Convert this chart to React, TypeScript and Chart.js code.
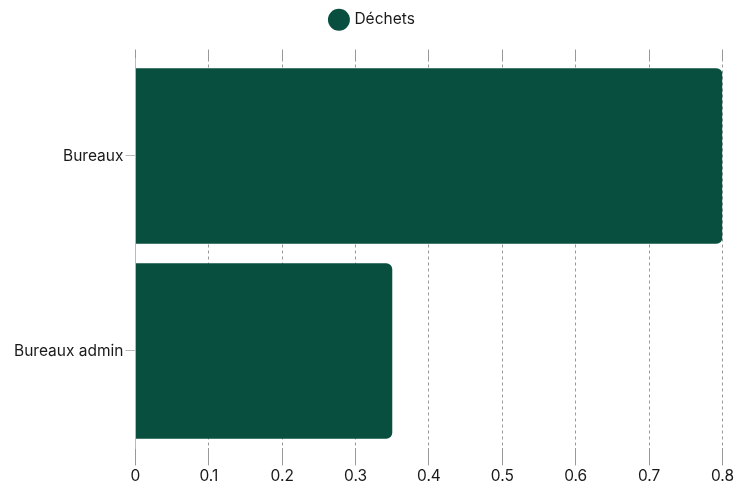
import React, { useEffect, useRef } from "react";
import { Chart, registerables } from "chart.js";

Chart.register(...registerables);

const categories: string[] = ["Bureaux", "Bureaux admin"];
const dechets: number[] = [0.8, 0.35];
const seriesLabel = "Déchets";

const legendMargin = {
  id: "legendMargin",
  beforeInit(chart: any) {
    const legend = chart.legend;
    if (!legend) return;
    const origFit = legend.fit;
    legend.fit = function () {
      origFit.bind(legend)();
      this.height += 12;
    };
    const origDraw = legend.draw;
    legend.draw = function () {
      const ctx = chart.ctx;
      ctx.save();
      ctx.translate(5, 0);
      origDraw.call(legend);
      ctx.restore();
    };
  },
};

export default function App() {
  const ref = useRef<HTMLCanvasElement | null>(null);
  useEffect(() => {
    document.body.style.margin = "0";
    if (!ref.current) return;
    const chart = new Chart(ref.current, {
      type: "bar",
      data: {
        labels: categories,
        datasets: [
          {
            label: seriesLabel,
            data: dechets,
            backgroundColor: "#094F3F",
            borderRadius: 6,
            borderSkipped: "start",
            barPercentage: 0.9,
            categoryPercentage: 1,
          },
        ],
      },
      plugins: [legendMargin],
      options: {
        indexAxis: "y",
        animation: false,
        responsive: true,
        maintainAspectRatio: false,
        layout: { padding: { left: 12, right: 12, top: 2, bottom: 0 } },
        plugins: {
          legend: {
            position: "top",
            labels: {
              usePointStyle: true,
              pointStyle: "circle",
              boxWidth: 18,
              boxHeight: 18,
              color: "#1a1a1a",
              font: { family: "Inter", size: 15.5 },
              padding: 10,
            },
          },
          tooltip: { enabled: false },
        },
        scales: {
          x: {
            min: 0,
            max: 0.8,
            ticks: {
              stepSize: 0.1,
              color: "#1a1a1a",
              font: { family: "Inter", size: 15.5 },
              padding: 2,
            },
            grid: {
              color: "#999",
              tickLength: 17,
            },
            border: { display: false, dash: [3, 3] },
          },
          xTop: {
            type: "linear",
            position: "top",
            min: 0,
            max: 0.8,
            ticks: { display: false, stepSize: 0.1 },
            grid: { drawOnChartArea: false, color: "#999", tickLength: 9 },
            border: { display: false, dash: [3, 3] },
          },
          y: {
            ticks: {
              color: "#1a1a1a",
              font: { family: "Inter", size: 15.5 },
              padding: 2,
            },
            grid: { drawOnChartArea: false, offset: false, color: "#bbb", tickLength: 10 },
            border: { display: true, color: "#bbb" },
          },
        },
      },
    });
    return () => chart.destroy();
  }, []);
  return (
    <div style={{ position: "relative", width: "736px", height: "488px" }}>
      <canvas ref={ref} />
    </div>
  );
}
